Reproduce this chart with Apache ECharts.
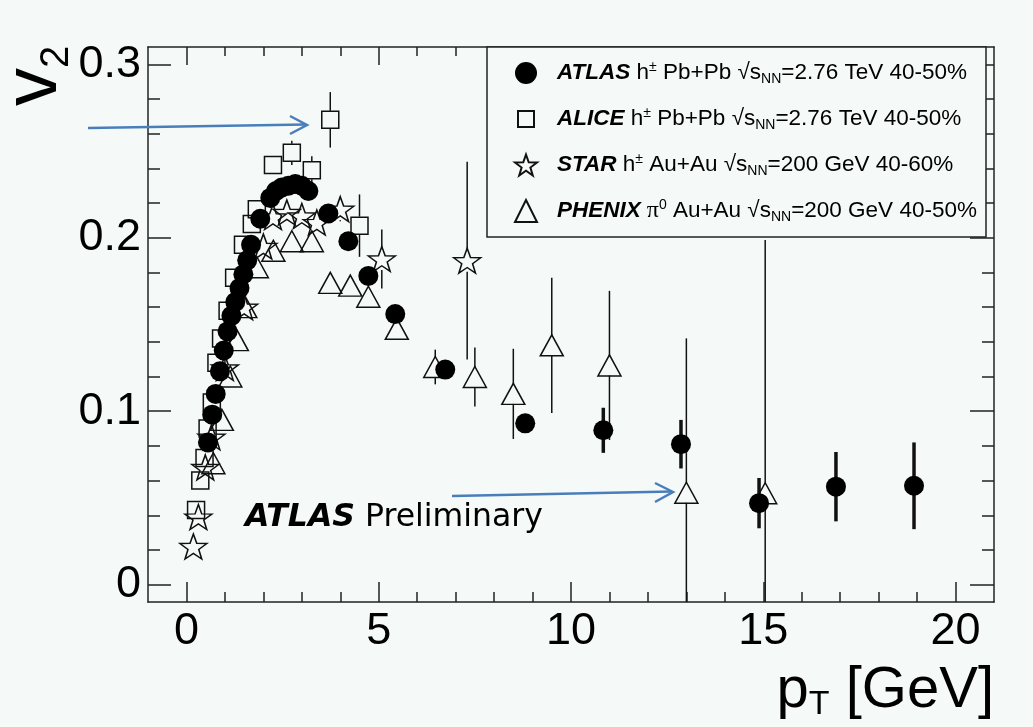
<!DOCTYPE html>
<html>
<head>
<meta charset="utf-8">
<script src="https://cdn.jsdelivr.net/npm/echarts@6/dist/echarts.min.js"></script>
<style>
html,body{margin:0;padding:0;background:#f5faf8;}
#chart{width:1033px;height:727px;}
</style>
</head>
<body>
<div id="chart"></div>
<script>
// ---------- data ----------
const atlasX   = [0.56,0.67,0.76,0.87,0.97,1.07,1.17,1.27,1.38,1.48,1.58,1.68,1.92,2.18,2.33,2.48,2.65,2.83,3.0,3.17,3.69,4.21,4.73,5.43,6.73,8.81,10.84,12.86,14.89,16.89,18.92];
const atlasY   = [0.082,0.098,0.110,0.123,0.135,0.146,0.155,0.163,0.171,0.179,0.187,0.196,0.211,0.223,0.227,0.229,0.230,0.231,0.230,0.227,0.214,0.198,0.178,0.156,0.124,0.093,0.089,0.081,0.047,0.0565,0.057];
const atlasErr = [0,0,0,0,0,0,0,0,0,0,0,0,0,0,0,0,0,0,0,0,0,0,0,0,0,0.004,0.013,0.014,0.0145,0.020,0.025];

const aliceX   = [0.25,0.36,0.47,0.55,0.66,0.78,0.90,1.07,1.24,1.47,1.70,1.83,2.25,2.74,3.26,3.74,4.50];
const aliceY   = [0.043,0.060,0.073,0.090,0.105,0.128,0.142,0.158,0.177,0.196,0.208,0.2165,0.242,0.249,0.239,0.268,0.207];
const aliceErr = [0,0,0,0,0,0,0,0,0,0,0,0,0.005,0.007,0.008,0.016,0.018];

const starX    = [0.18,0.31,0.49,0.65,1.0,1.5,2.0,2.25,2.61,3.0,3.39,4.0,5.08,7.3];
const starY    = [0.022,0.039,0.0676,0.085,0.125,0.160,0.195,0.212,0.2146,0.2126,0.2088,0.2165,0.1878,0.1868];
const starErr  = [0,0,0,0,0,0,0,0,0,0,0,0.007,0.017,0.057];

const phenixX   = [0.70,0.92,1.14,1.31,1.53,1.83,2.26,2.74,3.26,3.74,4.26,4.73,5.47,6.47,7.50,8.50,9.50,11.0,13.0,15.05];
const phenixY   = [0.070,0.095,0.120,0.141,0.160,0.183,0.1925,0.198,0.198,0.174,0.1724,0.166,0.1475,0.1255,0.1197,0.110,0.138,0.1264,0.053,0.0527];
const phenixErr = [0,0,0,0,0,0,0,0,0,0,0,0,0,0.010,0.017,0.026,0.039,0.043,0.089,0.146];

const xMajorTicks = [0,5,10,15,20];
const xMinorTicks = [1,2,3,4,6,7,8,9,11,12,13,14,16,17,18,19];
const yMajorTicks = [0,0.1,0.2,0.3];
const yMinorTicks = [0.02,0.04,0.06,0.08,0.12,0.14,0.16,0.18,0.22,0.24,0.26,0.28];

const X_MIN = -1, X_MAX = 21, Y_MIN = -0.01, Y_MAX = 0.31;

const legendText = {
  ATLAS:  '{sp| }{n|ATLAS}{t| h}{sup|±}{t| Pb+Pb √s}{sub|NN}{t|=2.76 TeV 40-50%}',
  ALICE:  '{sp| }{n|ALICE}{t| h}{sup|±}{t| Pb+Pb √s}{sub|NN}{t|=2.76 TeV 40-50%}',
  STAR:   '{sp| }{n|STAR}{t| h}{sup|±}{t| Au+Au √s}{sub|NN}{t|=200 GeV 40-60%}',
  PHENIX: '{sp| }{n|PHENIX}{pi| π}{sup|0}{t| Au+Au √s}{sub|NN}{t|=200 GeV 40-50%}'
};

// ---------- helpers ----------
const BG = '#f5faf8';
const INK = '#111';
const STAR_PATH = 'path://M0,-10L2.35,-3.24L9.51,-3.09L3.8,1.24L5.88,8.09L0,4L-5.88,8.09L-3.8,1.24L-9.51,-3.09L-2.35,-3.24Z';
const SMALL_SQUARE_ICON = 'path://M-11,-11M11,11M-8,-8L8,-8L8,8L-8,8Z';

function pts(xs, ys) { return xs.map((x, i) => [x, ys[i]]); }
function errPts(xs, ys, es) { return xs.map((x, i) => [x, ys[i], es[i]]); }

function errRender(gap, width) {
  return function (params, api) {
    const x = api.value(0), y = api.value(1), e = api.value(2);
    if (!e) return null;
    const lo = Math.max(y - e, Y_MIN), hi = Math.min(y + e, Y_MAX);
    const pc = api.coord([x, y]);
    const pl = api.coord([x, lo]);
    const ph = api.coord([x, hi]);
    const children = [];
    const style = { stroke: INK, lineWidth: width };
    if (ph[1] < pc[1] - gap) children.push({ type: 'line', shape: { x1: pc[0], y1: ph[1], x2: pc[0], y2: pc[1] - gap }, style });
    if (pl[1] > pc[1] + gap) children.push({ type: 'line', shape: { x1: pc[0], y1: pc[1] + gap, x2: pc[0], y2: pl[1] }, style });
    return { type: 'group', children };
  };
}

function errSeries(name, xs, ys, es, gap, width) {
  return {
    name: name, type: 'custom', xAxisIndex: 0, yAxisIndex: 0,
    renderItem: errRender(gap, width), data: errPts(xs, ys, es),
    encode: { x: 0, y: 1 }, silent: true, z: 2
  };
}

function xAxisDef(pos, ticks, len, showLine, showLabel) {
  return {
    type: 'value', position: pos, min: X_MIN, max: X_MAX, gridIndex: 0,
    axisLine: { show: showLine, onZero: false, lineStyle: { color: '#222', width: 1.5 } },
    axisTick: { show: true, inside: true, length: len, customValues: ticks, lineStyle: { color: '#222', width: 1.5 } },
    axisLabel: showLabel ? { show: true, customValues: ticks, fontSize: 45, color: '#000', margin: 7, fontFamily: 'Liberation Sans' } : { show: false },
    splitLine: { show: false }
  };
}
function yAxisDef(pos, ticks, len, showLine, showLabel) {
  return {
    type: 'value', position: pos, min: Y_MIN, max: Y_MAX, gridIndex: 0,
    axisLine: { show: showLine, onZero: false, lineStyle: { color: '#222', width: 1.5 } },
    axisTick: { show: true, inside: true, length: len, customValues: ticks, lineStyle: { color: '#222', width: 1.5 } },
    axisLabel: showLabel ? { show: true, customValues: ticks, fontSize: 45, color: '#000', margin: 7, fontFamily: 'Liberation Sans',
      formatter: v => (Math.round(v * 10) / 10).toString() } : { show: false },
    splitLine: { show: false }
  };
}

const xAxes = [
  xAxisDef('bottom', xMajorTicks, 20, true, true),
  xAxisDef('bottom', xMinorTicks, 10, false, false),
  xAxisDef('top', xMajorTicks, 18, true, false),
  xAxisDef('top', xMinorTicks, 9, false, false)
];

const yAxes = [
  yAxisDef('left', yMajorTicks, 23, true, true),
  yAxisDef('left', yMinorTicks, 12, false, false),
  yAxisDef('right', yMajorTicks, 24, true, false),
  yAxisDef('right', yMinorTicks, 12, false, false)
];

const openStyle = { color: 'rgba(0,0,0,0)', borderColor: INK, borderWidth: 1.5, opacity: 1 };

const option = {
  backgroundColor: BG,
  animation: false,
  textStyle: { fontFamily: 'Liberation Sans' },
  grid: { left: 148, right: 39, top: 47, bottom: 125, containLabel: false, outerBoundsMode: 'none' },
  xAxis: xAxes,
  yAxis: yAxes,
  legend: {
    data: [
      { name: 'ATLAS' },
      { name: 'ALICE', icon: SMALL_SQUARE_ICON },
      { name: 'STAR' },
      { name: 'PHENIX' }
    ],
    orient: 'vertical', left: 514, top: 60, padding: 0,
    itemWidth: 22, itemHeight: 22, itemGap: 20,
    selectedMode: false,
    formatter: name => legendText[name],
    textStyle: {
      rich: {
        sp: { width: 15, fontSize: 22.5, lineHeight: 26 },
        n: { fontWeight: 'bold', fontStyle: 'italic', fontSize: 22.5, lineHeight: 26, color: '#000', fontFamily: 'Liberation Sans' },
        t: { fontSize: 22.5, lineHeight: 26, color: '#000', fontFamily: 'Liberation Sans' },
        pi: { fontSize: 24, lineHeight: 26, color: '#000', fontFamily: 'Liberation Serif' },
        sup: { fontSize: 14, lineHeight: 14, verticalAlign: 'top', color: '#000', fontFamily: 'Liberation Sans' },
        sub: { fontSize: 14, lineHeight: 14, verticalAlign: 'bottom', color: '#000', fontFamily: 'Liberation Sans' }
      }
    }
  },
  graphic: [
    { type: 'rect', z: 3, shape: { x: 487, y: 47, width: 499, height: 190 },
      style: { fill: BG, stroke: '#222', lineWidth: 1.5 } },
    // y-axis title v_2 (rotated)
    { type: 'text', z: 5, x: -3, y: 106, rotation: Math.PI / 2,
      style: { text: '{v|v}{s|2}', align: 'left', verticalAlign: 'top', textAlign: 'left', textVerticalAlign: 'top',
        rich: {
          v: { fontSize: 76, lineHeight: 80, verticalAlign: 'top', fill: '#000', color: '#000', fontFamily: 'Liberation Sans' },
          s: { fontSize: 40, lineHeight: 40, padding: [44, 0, 0, 0], verticalAlign: 'bottom', fill: '#000', color: '#000', fontFamily: 'Liberation Sans' }
        } } },
    // x-axis title p_T [GeV]
    { type: 'text', z: 5, x: 994, y: 662,
      style: { text: '{m|p}{s|T}{m| [GeV]}', align: 'right', verticalAlign: 'top', textAlign: 'right', textVerticalAlign: 'top',
        rich: {
          m: { fontSize: 58, lineHeight: 60, verticalAlign: 'top', fill: '#000', color: '#000', fontFamily: 'Liberation Sans' },
          s: { fontSize: 34, lineHeight: 40, padding: [54, 0, 0, 0], verticalAlign: 'bottom', fill: '#000', color: '#000', fontFamily: 'Liberation Sans' }
        } } },
    { type: 'text', z: 5, x: 245, y: 518,
      style: { text: '{b|ATLAS}{r| Preliminary}', verticalAlign: 'middle', textVerticalAlign: 'middle',
        rich: {
          b: { fontSize: 31.5, fontWeight: 'bold', fontStyle: 'italic', fill: '#000', color: '#000', fontFamily: 'DejaVu Sans' },
          r: { fontSize: 31.5, fill: '#000', color: '#000', fontFamily: 'DejaVu Sans' }
        } } },
    // blue annotation arrows
    { type: 'polyline', z: 6, shape: { points: [[88, 128], [306, 124.5]] }, style: { stroke: '#4a7ebb', lineWidth: 2.5, fill: null } },
    { type: 'polyline', z: 6, shape: { points: [[290, 116], [307, 125], [290, 134]] }, style: { stroke: '#4a7ebb', lineWidth: 2.5, fill: null } },
    { type: 'polyline', z: 6, shape: { points: [[452, 496], [672, 491.5]] }, style: { stroke: '#4a7ebb', lineWidth: 2.5, fill: null } },
    { type: 'polyline', z: 6, shape: { points: [[655, 483], [673, 492], [655, 502]] }, style: { stroke: '#4a7ebb', lineWidth: 2.5, fill: null } }
  ],
  series: [
    errSeries('ALICE err', aliceX, aliceY, aliceErr, 9, 1.5),
    { name: 'ALICE', type: 'scatter', symbol: 'rect', symbolSize: 17, itemStyle: openStyle, data: pts(aliceX, aliceY), z: 2 },
    errSeries('STAR err', starX, starY, starErr, 11, 1.5),
    { name: 'STAR', type: 'scatter', symbol: STAR_PATH, symbolSize: [27, 25], itemStyle: openStyle, data: pts(starX, starY), z: 2 },
    errSeries('PHENIX err', phenixX, phenixY, phenixErr, 10, 1.5),
    { name: 'PHENIX', type: 'scatter', symbol: 'triangle', symbolSize: [23, 21], itemStyle: openStyle, data: pts(phenixX, phenixY), z: 2 },
    errSeries('ATLAS err', atlasX, atlasY, atlasErr, 0, 3.5),
    { name: 'ATLAS', type: 'scatter', symbol: 'circle', symbolSize: 20, itemStyle: { color: '#000', opacity: 1 }, data: pts(atlasX, atlasY), z: 2 }
  ]
};

const chart = echarts.init(document.getElementById('chart'), null, { renderer: 'canvas' });
chart.setOption(option);
</script>
</body>
</html>
